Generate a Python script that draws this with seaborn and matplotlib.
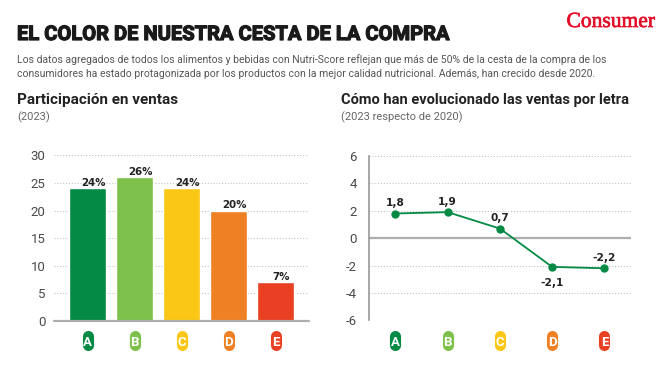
import pandas as pd
import seaborn as sns
import matplotlib
matplotlib.use('Agg')
import matplotlib.pyplot as plt
import matplotlib.patheffects as pe

letras = ['A', 'B', 'C', 'D', 'E']
ventas = [24, 26, 24, 20, 7]
ventas_labels = ['24%', '26%', '24%', '20%', '7%']
evolucion = [1.8, 1.9, 0.7, -2.1, -2.2]
evolucion_labels = ['1,8', '1,9', '0,7', '-2,1', '-2,2']
colores = ['#058a45', '#7dc14a', '#fac716', '#f08024', '#e94024']
yticks_izq = [0, 5, 10, 15, 20, 25, 30]
yticks_der = [-6, -4, -2, 0, 2, 4, 6]

W, H = 665, 379
VERDE = '#058a45'
GRIS = '#aeaeae'
TEXTO = '#4a4a4a'

sns.set_theme(style='white')
plt.rcParams['font.family'] = ['Roboto', 'DejaVu Sans']
plt.rcParams['axes.unicode_minus'] = False


def caja(x0, x1, y_top, y_bottom):
    # pixeles de la referencia -> coordenadas de figura
    return [x0 / W, 1 - y_bottom / H, (x1 - x0) / W, (y_bottom - y_top) / H]


def texto(x, y, s, **kw):
    fig.text(x / W, 1 - y / H, s, va='baseline', **kw)


def formato_eje(ax, yticks):
    ax.set_yticks(yticks)
    ax.set_xlabel('')
    ax.set_ylabel('')
    ax.grid(axis='y', linestyle=(0, (1, 1.6)), color='#c4c4c4', linewidth=0.8)
    ax.set_axisbelow(True)
    ax.tick_params(axis='y', length=0, labelsize=9.5, labelcolor=TEXTO, pad=6)
    ax.set_xticks([])
    sns.despine(ax=ax, left=True, bottom=True)
    # letras Nutri-Score debajo del eje
    trans = ax.get_xaxis_transform()
    alto = ax.get_position().height * H
    for i, l in enumerate(letras):
        y1 = -(340.7 - 4.5 - ax_bottom[ax]) / alto
        y2 = -(340.7 + 4.5 - ax_bottom[ax]) / alto
        ax.plot([i, i], [y1, y2], transform=trans, color=colores[i], lw=8.0,
                solid_capstyle='round', clip_on=False)
        ax.text(i, (y1 + y2) / 2, l, transform=trans, color='white', fontsize=9.5,
                fontweight='bold', ha='center', va='center_baseline')


fig = plt.figure(figsize=(W / 100, H / 100), dpi=100, facecolor='white')
ax1 = fig.add_axes(caja(54, 309, 155.3, 321))
ax2 = fig.add_axes(caja(369.3, 631, 156, 320.3))
ax_bottom = {ax1: 321, ax2: 320.3}

# barras
df = pd.DataFrame({'letra': letras, 'ventas': ventas})
sns.barplot(data=df, x='letra', y='ventas', hue='letra', palette=colores, width=0.78,
            legend=False, saturation=1, ax=ax1)
ax1.set_xlim(-0.717, 4.71)
ax1.set_ylim(0, 30)
formato_eje(ax1, yticks_izq)
ax1.axhline(0, color=GRIS, lw=1.6, clip_on=False, zorder=5)
for i, v in enumerate(ventas):
    ax1.annotate(ventas_labels[i], (i, v), xytext=(4.3, 0.5), textcoords='offset points',
                 ha='center', va='bottom', fontsize=7.4, fontweight='bold', family='DejaVu Sans',
                 color='#222222')

# linea
df2 = pd.DataFrame({'pos': range(5), 'evolucion': evolucion})
sns.lineplot(data=df2, x='pos', y='evolucion', color=VERDE, lw=1.3, marker='o', markersize=6,
             markeredgewidth=0, ax=ax2)
ax2.set_xlim(-0.497, 4.507)
ax2.set_ylim(-6, 6)
formato_eje(ax2, yticks_der)
ax2.axhline(0, color=GRIS, lw=1.6, zorder=1.5)
ax2.spines['left'].set_visible(True)
ax2.spines['left'].set_color('#8f8f8f')
ax2.spines['left'].set_linewidth(1.1)
ax2.tick_params(axis='y', pad=9)
for i, v in enumerate(evolucion):
    dy = -15.5 if i == 3 else 4
    ax2.annotate(evolucion_labels[i], (i, v), xytext=(0, dy), textcoords='offset points',
                 ha='center', va='bottom', fontsize=7.6, fontweight='bold', family='DejaVu Sans',
                 color='#222222')

# textos
fig.text(17 / W, 1 - 40 / H, 'EL COLOR DE NUESTRA CESTA DE LA COMPRA', fontsize=14.5,
         fontweight='bold', color='#1a1a1a', va='baseline',
         path_effects=[pe.withStroke(linewidth=0.9, foreground='#1a1a1a')])
texto(17, 63, 'Los datos agregados de todos los alimentos y bebidas con Nutri-Score reflejan que más de 50% '
      'de la cesta de la compra de los', fontsize=7.45, color='#555555')
texto(17, 77, 'consumidores ha estado protagonizada por los productos con la mejor calidad nutricional. '
      'Además, han crecido desde 2020.', fontsize=7.45, color='#555555')
texto(17, 104, 'Participación en ventas', fontsize=11, fontweight='bold', color='#222222')
texto(341, 104, 'Cómo han evolucionado las ventas por letra', fontsize=10.5, fontweight='bold', color='#222222')
texto(17, 120, '(2023)', fontsize=8, color='#666666')
texto(341, 120, '(2023 respecto de 2020)', fontsize=8, color='#666666')
fig.text(655 / W, 1 - 27 / H, 'Consumer', family='Liberation Serif', fontsize=15.5,
         color='#e30f2a', ha='right', va='baseline',
         path_effects=[pe.withStroke(linewidth=0.5, foreground='#e30f2a')])

fig.savefig('out.png', dpi=100)
